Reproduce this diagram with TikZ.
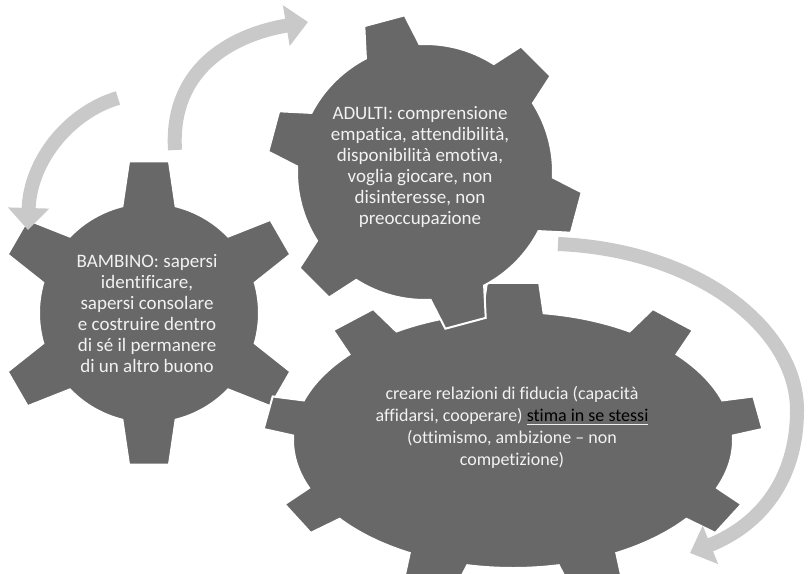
\documentclass[tikz,border=0pt]{standalone}
\usepackage{fontspec}
\setmainfont{Carlito}[Ligatures=NoCommon]
\usepackage{xcolor}
\usepackage{tikz}
\usetikzlibrary{arrows.meta}

\definecolor{ingr}{RGB}{104,104,104}
\definecolor{freccia}{RGB}{201,201,201}
\definecolor{testo}{RGB}{242,242,242}

\begin{document}
\begin{tikzpicture}[
  x=0.5pt, y=-0.5pt,
  gear/.style={fill=ingr, draw=white, line width=1pt, line join=miter},
  txt/.style={align=center, text=testo, font=\fontsize{9.5}{10.5}\selectfont, inner sep=0pt},
  arr/.style={draw=freccia, line width=7pt, -{Triangle[width=20pt,length=11pt]}}
]
\useasboundingbox (0,0) rectangle (812,573);
\clip (0,0) rectangle (812,573);

% ingranaggi: bambino, fiducia, adulti
\begin{scope}[shift={(149,313)}]
  \path[gear] (76:110) \foreach \a in {90,150,...,390} {
    -- (\a-14:110) -- (\a-7.5:153) -- (\a+7.5:153) -- (\a+14:110)
    arc[start angle=\a+14, end angle=\a+46, radius=110]} -- cycle;
\end{scope}
\begin{scope}[shift={(513,440)}]
  \path[gear] (22:220 and 128) \foreach \a in {30,70,...,350} {
    -- (\a-8:220 and 128) -- (\a-6:250 and 158) -- (\a+6:250 and 158) -- (\a+8:220 and 128)
    arc[start angle=\a+8, end angle=\a+32, x radius=220, y radius=128]} -- cycle;
\end{scope}
\begin{scope}[shift={(425,172)}]
  \path[gear] (2.5:128) \foreach \a in {15,75,...,315} {
    -- (\a-12.5:128) -- (\a-7.6:158) -- (\a+7.6:158) -- (\a+12.5:128)
    arc[start angle=\a+12.5, end angle=\a+47.5, radius=128]} -- cycle;
\end{scope}

\node[txt] (adulti) at (420,167) {ADULTI: comprensione\\ empatica, attendibilità,\\ disponibilità emotiva,\\ voglia giocare, non\\ disinteresse, non\\ preoccupazione};
\node[txt] (bambino) at (147,314) {BAMBINO: sapersi\\ identificare,\\ sapersi consolare\\ e costruire dentro\\ di sé il permanere\\ di un altro buono};
\node[txt, font=\fontsize{9}{11}\selectfont] (fiducia) at (512,427) {creare relazioni di fiducia (capacità\\ affidarsi, cooperare) \underline{\textcolor{black}{stima in se stessi}}\\ (ottimismo, ambizione -- non\\ competizione)};

% frecce
\coordinate (f1a) at (118,98);  \coordinate (f1b) at (28,230);
\coordinate (f2a) at (175,150); \coordinate (f2b) at (308,22);
\coordinate (f3a) at (558,244); \coordinate (f3m) at (797,410); \coordinate (f3b) at (690,553);
\draw[arr] (f1a) .. controls (70,112) and (30,160) .. (f1b);
\draw[arr] (f2a) .. controls (170,70) and (230,35) .. (f2b);
\draw[arr] (f3a) .. controls (700,250) and (797,330) .. (f3m) .. controls (797,480) and (760,525) .. (f3b);
\end{tikzpicture}
\end{document}
